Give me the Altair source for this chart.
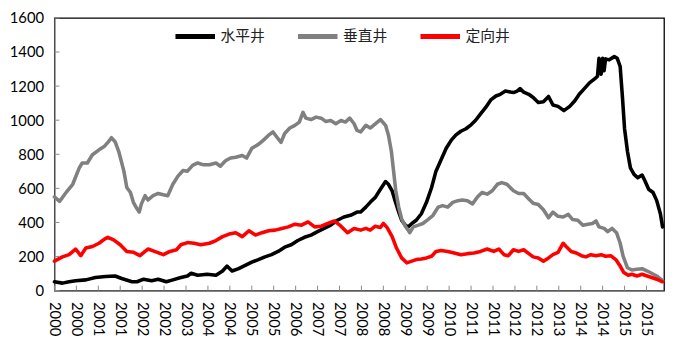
import json
import altair as alt
import pandas as pd

series_names = ["水平井", "垂直井", "定向井"]
series_colors = ["#000000", "#808080", "#ff0000"]

# horizontal wells (水平井): week index, rig count
h_week = [0, 11, 20, 29, 43, 56, 70, 83, 92, 106, 113, 122, 133, 142, 153, 162, 173, 182, 187, 196,
          209, 221, 230, 236, 243, 252, 261, 270, 279, 288, 297, 306, 315, 324, 333, 342, 351, 360,
          369, 378, 387, 396, 405, 414, 419, 426, 432, 439, 446, 453, 457, 462, 466, 471, 475, 480,
          484, 489, 495, 502, 509, 516, 522, 529, 536, 543, 549, 556, 563, 570, 576, 583, 590, 597,
          604, 610, 617, 624, 628, 633, 637, 642, 649, 655, 662, 669, 676, 682, 689, 697, 705, 712,
          718, 725, 732, 739, 743, 745, 748, 750, 752, 754, 759, 766, 770, 774, 777, 780, 784, 788,
          793, 798, 804, 808, 813, 819, 824, 829, 832]
h_val = [52, 44, 52, 58, 63, 77, 83, 86, 71, 52, 52, 67, 58, 67, 52, 63, 77, 86, 102, 90,
         96, 90, 115, 144, 115, 129, 148, 167, 182, 198, 211, 230, 255, 269, 294, 313, 326, 346,
         365, 384, 413, 432, 442, 461, 461, 490, 518, 547, 595, 640, 624, 586, 528, 461, 413, 384,
         374, 394, 413, 451, 518, 605, 701, 768, 835, 883, 912, 935, 950, 973, 998, 1037, 1075, 1119,
         1142, 1152, 1171, 1165, 1162, 1171, 1185, 1165, 1152, 1133, 1104, 1108, 1139, 1089, 1081, 1056, 1081, 1114,
         1152, 1185, 1219, 1242, 1258, 1363, 1270, 1363, 1290, 1360, 1354, 1373, 1363, 1315, 1142, 950, 816, 720,
         682, 662, 678, 643, 595, 576, 528, 451, 374]

# vertical wells (垂直井)
v_week = [0, 7, 16, 25, 34, 38, 45, 52, 61, 68, 74, 78, 83, 88, 95, 99, 104, 108, 113, 116,
          119, 124, 128, 135, 142, 149, 155, 162, 169, 176, 182, 189, 196, 203, 212, 221, 227, 234,
          241, 248, 257, 263, 270, 279, 286, 293, 299, 305, 310, 315, 322, 329, 335, 340, 344, 351,
          358, 365, 371, 378, 385, 392, 398, 404, 410, 414, 419, 426, 432, 439, 446, 453, 457, 461,
          464, 467, 471, 475, 480, 484, 486, 491, 498, 504, 511, 518, 525, 531, 538, 545, 552, 558,
          565, 572, 579, 585, 592, 599, 606, 612, 619, 628, 635, 642, 649, 655, 662, 669, 676, 682,
          689, 696, 703, 709, 716, 723, 730, 736, 741, 745, 752, 757, 763, 769, 774, 778, 784, 790,
          797, 804, 811, 817, 824, 832]
v_val = [550, 524, 576, 624, 720, 749, 749, 797, 826, 845, 874, 897, 874, 816, 701, 605, 576, 518, 480, 461,
         509, 557, 532, 557, 570, 563, 557, 624, 672, 705, 701, 735, 749, 739, 739, 749, 730, 762,
         778, 783, 793, 778, 835, 858, 883, 912, 931, 897, 870, 922, 954, 970, 989, 1046, 1012, 1004,
         1018, 1012, 993, 998, 979, 998, 989, 1012, 979, 940, 931, 970, 954, 979, 1004, 970, 912, 816,
         701, 586, 490, 422, 378, 355, 340, 374, 384, 394, 417, 442, 490, 499, 490, 518, 528, 532,
         528, 509, 551, 576, 566, 586, 624, 634, 624, 586, 570, 570, 538, 513, 505, 474, 428, 461,
         436, 432, 447, 417, 413, 384, 390, 394, 409, 374, 365, 346, 365, 340, 278, 202, 134, 121,
         125, 129, 115, 102, 86, 58]

# directional wells (定向井)
d_week = [0, 11, 20, 29, 36, 43, 52, 61, 68, 73, 81, 90, 99, 108, 117, 124, 128, 137, 149, 158,
          167, 173, 182, 191, 200, 212, 221, 230, 239, 248, 257, 266, 275, 284, 293, 302, 311, 320,
          329, 338, 347, 356, 365, 374, 383, 392, 401, 410, 419, 426, 432, 439, 446, 450, 455, 462,
          468, 475, 482, 489, 495, 502, 509, 516, 522, 529, 538, 547, 556, 565, 574, 583, 592, 601,
          608, 615, 621, 628, 635, 642, 649, 655, 662, 669, 676, 682, 689, 696, 700, 707, 714, 721,
          727, 734, 741, 748, 754, 761, 768, 774, 779, 785, 790, 797, 804, 811, 817, 824, 832]
d_val = [173, 198, 211, 244, 205, 250, 259, 278, 301, 313, 298, 269, 230, 225, 205, 230, 244, 230, 211, 230,
         240, 269, 282, 278, 269, 278, 294, 317, 332, 340, 317, 351, 326, 340, 351, 355, 365, 374,
         390, 384, 403, 374, 378, 394, 409, 378, 340, 365, 355, 365, 355, 378, 371, 394, 371, 317,
         250, 192, 163, 173, 182, 186, 192, 202, 230, 236, 230, 221, 211, 217, 221, 230, 244, 230,
         244, 211, 205, 240, 230, 240, 217, 198, 192, 173, 192, 211, 225, 278, 259, 230, 221, 205,
         198, 211, 205, 211, 202, 205, 182, 144, 106, 90, 96, 86, 96, 86, 77, 67, 52]

tick_weeks = [0, 30, 60, 90, 120, 150, 180, 210, 240, 270, 300, 330, 360, 390,
              420, 450, 480, 510, 540, 570, 600, 630, 660, 690, 720, 750, 780, 810]
tick_labels = ["2000", "2000", "2001", "2001", "2002", "2002", "2003", "2004", "2004", "2005",
               "2005", "2006", "2007", "2007", "2008", "2008", "2009", "2009", "2010", "2011",
               "2011", "2012", "2012", "2013", "2014", "2014", "2015", "2015"]
y_ticks = [0, 200, 400, 600, 800, 1000, 1200, 1400, 1600]

W, H = 617, 276

frames = []
for name, wk, vals in zip(series_names, [h_week, v_week, d_week], [h_val, v_val, d_val]):
    frames.append(pd.DataFrame({"week": wk, "rigs": vals, "type": name}))
df = pd.concat(frames, ignore_index=True)

label_expr = (json.dumps(tick_labels, ensure_ascii=False)
              + "[indexof(" + json.dumps(tick_weeks) + ", datum.value)]")

x_enc = alt.X("week:Q",
              scale=alt.Scale(domain=[0, 834], nice=False, zero=False),
              axis=alt.Axis(values=tick_weeks, labelExpr=label_expr, labelAngle=90,
                            ticks=False, grid=False, domainColor="#888888", domainWidth=1,
                            labelFont="Lato", labelFontSize=15, labelColor="#000000",
                            labelPadding=11, labelFlush=False, labelOverlap=False, title=None))
y_enc = alt.Y("rigs:Q",
              scale=alt.Scale(domain=[0, 1600], nice=False),
              axis=alt.Axis(values=y_ticks, format="d", ticks=False, grid=False,
                            domainColor="#888888", domainWidth=1, labelFont="Lato",
                            labelFontSize=15, labelColor="#000000", labelPadding=11,
                            title=None))
legend = alt.Legend(orient="none", legendX=120, legendY=-4, direction="horizontal",
                    symbolType="stroke", symbolSize=1600, symbolStrokeWidth=5,
                    labelFont="Noto Sans CJK SC", labelFontSize=15, labelColor="#222222",
                    labelOffset=3, columnPadding=22, title=None)
color_enc = alt.Color("type:N",
                      scale=alt.Scale(domain=series_names, range=series_colors),
                      legend=legend)

base = alt.Chart(df)
layers = []
for name in series_names:
    layers.append(
        base.transform_filter(alt.datum.type == name)
        .mark_line(strokeWidth=3.6, strokeJoin="round", strokeCap="round")
        .encode(x=x_enc, y=y_enc, color=color_enc)
    )

xticks = alt.Chart(pd.DataFrame({"week": tick_weeks})).mark_rule(color="#888888").encode(
    x=x_enc, y=alt.value(H), y2=alt.value(H - 5))
yticks = alt.Chart(pd.DataFrame({"rigs": y_ticks})).mark_rule(color="#888888").encode(
    y=y_enc, x=alt.value(0), x2=alt.value(5))

chart = alt.layer(*layers, xticks, yticks).properties(
    width=W, height=H,
    padding={"left": 47, "top": 8, "right": 2, "bottom": 55},
    autosize=alt.AutoSizeParams(type="none"),
    background="white",
).configure_view(stroke="#000000", strokeWidth=1.3)

chart.save("out.html", embed_options={"renderer": "svg", "actions": False})
